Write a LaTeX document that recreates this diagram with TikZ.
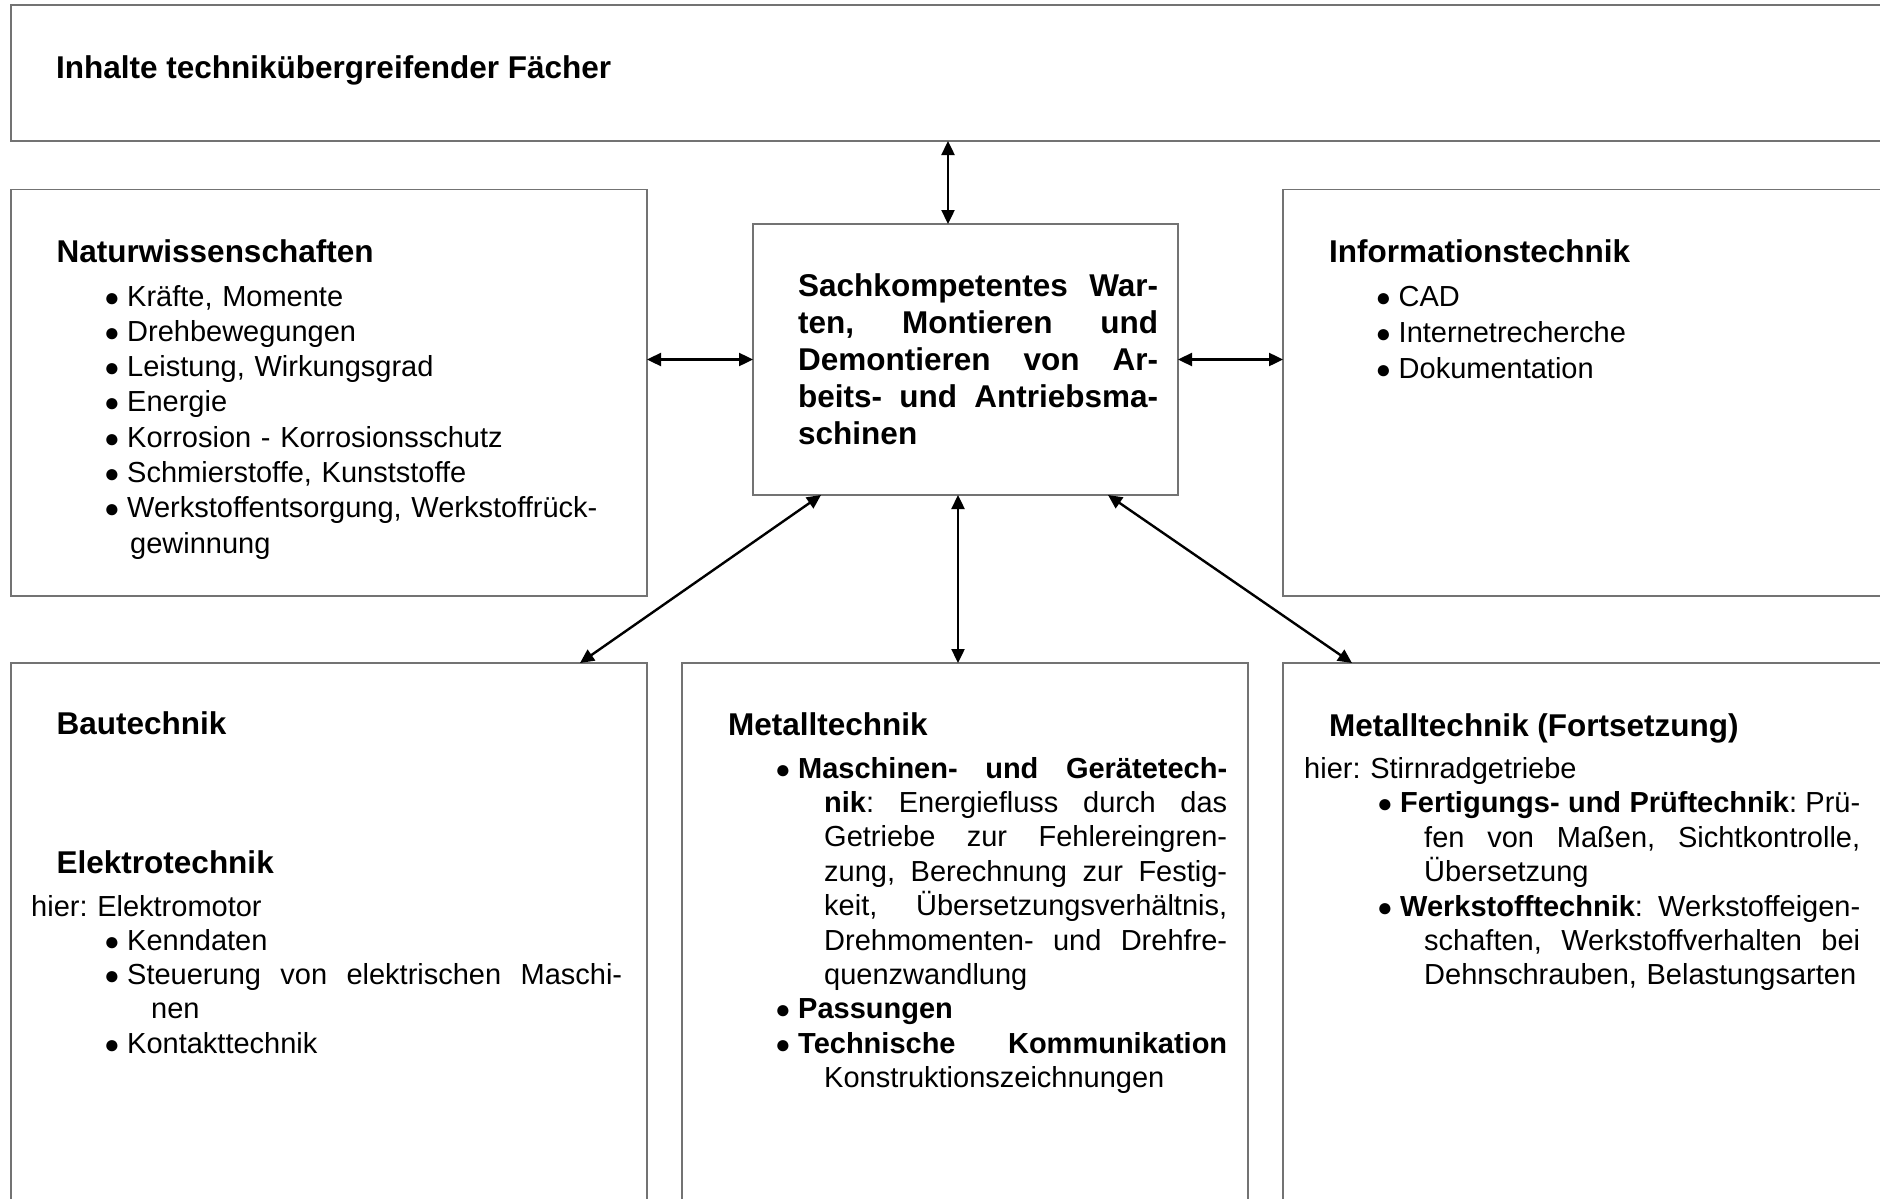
\documentclass[tikz,border=0pt]{standalone}
\usepackage{fontspec}
\setmainfont{Liberation Sans}
\usetikzlibrary{arrows.meta}

% a justified line of given width (spaces stretch evenly)
\newcommand\jline[2]{\makebox[#1][s]{\spaceskip=\fontdimen2\font plus 1fil\xspaceskip=\spaceskip #2}}
% list bullet with fixed hanging width
\newcommand\bul{\makebox[22pt][l]{\hspace*{-1pt}{\fontsize{26pt}{26pt}\selectfont ●}}}

\tikzset{
  panel/.style={draw=black!55, line width=1.8pt, inner sep=0pt, outer sep=0pt, anchor=north west},
  link/.style={draw=black, line width=2.4pt,
    {Triangle[length=14pt,width=13pt]}-{Triangle[length=14pt,width=13pt]}},
  head/.style={anchor=base west, inner sep=0pt, font=\fontsize{31.5pt}{37pt}\selectfont\bfseries},
  body/.style={anchor=base west, inner sep=0pt, align=left, text width=#1,
    font=\fontsize{29pt}{34.4pt}\selectfont},
  strong/.style={anchor=base west, inner sep=0pt, align=left, text width=#1,
    font=\fontsize{31.5pt}{37pt}\selectfont\bfseries},
}

\begin{document}
\frenchspacing
\begin{tikzpicture}[x=1pt, y=-1pt]
\useasboundingbox (0,0) rectangle (1880,1199);
\fill[white] (0,0) rectangle (1880,1199);
\clip (0,0) rectangle (1880,1199);

% frames
\node[panel, minimum width=1900pt, minimum height=136pt]   (top)  at (11,5)     {};
\node[panel, minimum width=636pt,  minimum height=406.5pt] (nat)  at (11,189.5) {};
\node[panel, minimum width=425pt,  minimum height=271pt]   (core) at (753,224)  {};
\node[panel, minimum width=700pt,  minimum height=406.5pt] (info) at (1283,189.5) {};
\node[panel, minimum width=636pt,  minimum height=600pt]   (bau)  at (11,663)   {};
\node[panel, minimum width=566pt,  minimum height=600pt]   (met)  at (682,663)  {};
\node[panel, minimum width=700pt,  minimum height=600pt]   (metf) at (1283,663) {};

% connectors
\path ([xshift=-17.5pt]core.north) coordinate (cn);
\draw[link] (cn |- top.south) -- (cn);
\draw[link] (nat.east |- core.west) -- (core.west);
\draw[link] (core.east) -- (info.west |- core.east);
\path ([xshift=-7.5pt]core.south) coordinate (cs);
\draw[link] (cs) -- (cs |- met.north);
\draw[link] ([xshift=-144.5pt]core.south) -- ([xshift=569pt]bau.north west);
\draw[link] ([xshift=142.5pt]core.south) -- ([xshift=69pt]metf.north west);

% top frame
\node[head] (topH) at (56,78) {Inhalte technikübergreifender Fächer};

% natural sciences
\node[head] (natH) at (56.5,262) {Naturwissenschaften};
\node[body=540pt, font=\fontsize{29pt}{35.3pt}\selectfont] (natL) at (105,306) {%
\bul Kräfte, Momente\\
\bul Drehbewegungen\\
\bul Leistung, Wirkungsgrad\\
\bul Energie\\
\bul Korrosion - Korrosionsschutz\\
\bul Schmierstoffe, Kunststoffe\\
\bul Werkstoffentsorgung, Werkstoffrück-\\
\hspace*{25pt}gewinnung};

% central topic
\node[strong=362pt] (coreT) at (798,296) {%
\jline{360pt}{Sachkompetentes War-}\\
\jline{360pt}{ten, Montieren und}\\
\jline{360pt}{Demontieren von Ar-}\\
\jline{360pt}{beits- und Antriebsma-}\\
schinen};

% information technology
\node[head] (infH) at (1329,262) {Informationstechnik};
\node[body=480pt, font=\fontsize{29pt}{35.8pt}\selectfont] (infL) at (1376.5,306.5) {%
\bul CAD\\
\bul Internetrecherche\\
\bul Dokumentation};

% construction / electrical
\node[head] (bauH) at (56.5,734) {Bautechnik};
\node[head] (eleH) at (56.5,873) {Elektrotechnik};
\node[body=600pt, font=\fontsize{29pt}{34.3pt}\selectfont] (eleL) at (31,916) {%
hier: Elektromotor\\
\hspace*{74pt}\bul Kenndaten\\
\hspace*{74pt}\bul\jline{495pt}{Steuerung von elektrischen Maschi-}\\
\hspace*{120pt}nen\\
\hspace*{74pt}\bul Kontakttechnik};

% metal technology
\node[head] (metH) at (728,735) {Metalltechnik};
\node[body=470pt] (metL) at (776,778) {%
\bul\jline{429pt}{\textbf{Maschinen- und Gerätetech-}}\\
\hspace*{48pt}\jline{403pt}{\textbf{nik}: Energiefluss durch das}\\
\hspace*{48pt}\jline{403pt}{Getriebe zur Fehlereingren-}\\
\hspace*{48pt}\jline{403pt}{zung, Berechnung zur Festig-}\\
\hspace*{48pt}\jline{403pt}{keit, Übersetzungsverhältnis,}\\
\hspace*{48pt}\jline{403pt}{Drehmomenten- und Drehfre-}\\
\hspace*{48pt}quenzwandlung\\
\bul\textbf{Passungen}\\
\bul\jline{429pt}{\textbf{Technische Kommunikation}}\\
\hspace*{48pt}Konstruktionszeichnungen};

% metal technology, continued
\node[head] (metfH) at (1329,736) {Metalltechnik (Fortsetzung)};
\node[body=620pt] (metfL) at (1304,778.5) {%
hier: Stirnradgetriebe\\
\hspace*{74pt}\bul\jline{460pt}{\textbf{Fertigungs- und Prüftechnik}: Prü-}\\
\hspace*{120pt}\jline{436pt}{fen von Maßen, Sichtkontrolle,}\\
\hspace*{120pt}Übersetzung\\
\hspace*{74pt}\bul\jline{460pt}{\textbf{Werkstofftechnik}: Werkstoffeigen-}\\
\hspace*{120pt}\jline{436pt}{schaften, Werkstoffverhalten bei}\\
\hspace*{120pt}Dehnschrauben, Belastungsarten};
\end{tikzpicture}
\end{document}
